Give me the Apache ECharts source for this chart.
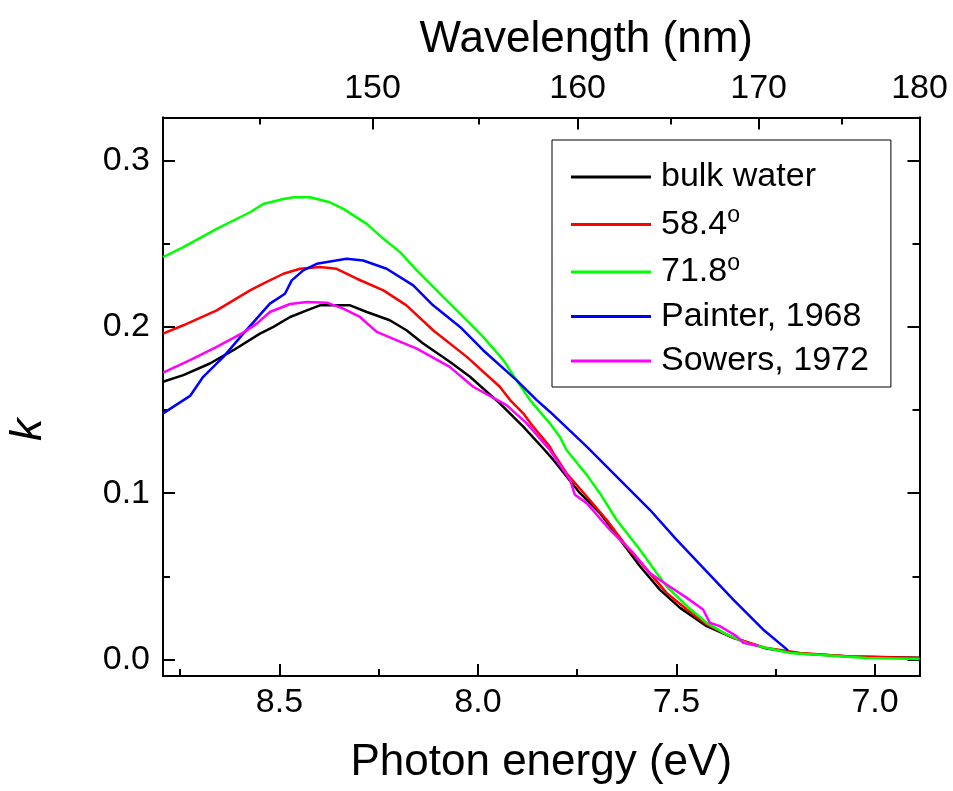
<!DOCTYPE html>
<html>
<head>
<meta charset="utf-8">
<script src="https://cdn.jsdelivr.net/npm/echarts@6/dist/echarts.min.js"></script>
<style>
html,body{margin:0;padding:0;background:#fff;}
#chart{width:953px;height:791px;}
</style>
</head>
<body>
<div id="chart"></div>
<script>
// ---- data (photon energy in eV, extinction coefficient k) ----
const seriesNames = ['bulk water', '58.4°', '71.8°', 'Painter, 1968', 'Sowers, 1972'];
const seriesColors = ['#000000', '#ff0000', '#00ff00', '#0000ff', '#ff00ff'];

const bulkE = [8.793, 8.742, 8.675, 8.616, 8.549, 8.515, 8.473, 8.431, 8.398, 8.322, 8.280, 8.222, 8.180, 8.138, 8.071, 8.020, 7.945, 7.886, 7.836, 7.810, 7.743, 7.693, 7.642, 7.592, 7.542, 7.491, 7.424, 7.357, 7.273, 7.189, 7.063, 6.888];
const bulkK = [0.167, 0.171, 0.178, 0.186, 0.196, 0.200, 0.206, 0.210, 0.213, 0.213, 0.209, 0.204, 0.198, 0.190, 0.179, 0.170, 0.154, 0.140, 0.127, 0.120, 0.100, 0.088, 0.072, 0.056, 0.042, 0.031, 0.020, 0.013, 0.0065, 0.0036, 0.0018, 0.0010];

const a584E = [8.793, 8.742, 8.658, 8.574, 8.541, 8.490, 8.448, 8.398, 8.356, 8.305, 8.238, 8.180, 8.113, 8.028, 7.945, 7.919, 7.886, 7.861, 7.819, 7.810, 7.777, 7.726, 7.676, 7.626, 7.575, 7.525, 7.474, 7.424, 7.357, 7.273, 7.189, 7.063, 6.888];
const a584K = [0.196, 0.201, 0.210, 0.222, 0.226, 0.232, 0.235, 0.236, 0.235, 0.229, 0.222, 0.213, 0.198, 0.182, 0.164, 0.156, 0.148, 0.140, 0.128, 0.124, 0.112, 0.098, 0.084, 0.068, 0.054, 0.040, 0.030, 0.021, 0.013, 0.0068, 0.0038, 0.0017, 0.0008];

const a718E = [8.793, 8.742, 8.658, 8.574, 8.541, 8.490, 8.465, 8.423, 8.373, 8.339, 8.280, 8.238, 8.196, 8.154, 8.087, 8.028, 7.987, 7.936, 7.903, 7.869, 7.819, 7.794, 7.777, 7.726, 7.693, 7.651, 7.592, 7.550, 7.525, 7.474, 7.424, 7.374, 7.323, 7.273, 7.214, 7.105, 7.021, 6.888];
const a718K = [0.242, 0.248, 0.259, 0.269, 0.274, 0.277, 0.278, 0.278, 0.275, 0.271, 0.262, 0.253, 0.245, 0.234, 0.218, 0.204, 0.194, 0.180, 0.168, 0.156, 0.142, 0.134, 0.126, 0.111, 0.100, 0.084, 0.066, 0.052, 0.044, 0.032, 0.022, 0.015, 0.0098, 0.0068, 0.0038, 0.0022, 0.0008, 0.0002];

const painterE = [8.793, 8.725, 8.692, 8.641, 8.591, 8.524, 8.486, 8.469, 8.440, 8.406, 8.331, 8.289, 8.230, 8.163, 8.113, 8.045, 7.987, 7.903, 7.852, 7.819, 7.726, 7.567, 7.500, 7.357, 7.282, 7.219];
const painterK = [0.148, 0.1585, 0.170, 0.182, 0.196, 0.214, 0.220, 0.228, 0.234, 0.238, 0.241, 0.240, 0.235, 0.225, 0.213, 0.200, 0.186, 0.168, 0.156, 0.149, 0.128, 0.090, 0.072, 0.036, 0.018, 0.0054];

const sowersE = [8.793, 8.725, 8.658, 8.591, 8.557, 8.524, 8.473, 8.431, 8.381, 8.339, 8.297, 8.255, 8.154, 8.071, 8.012, 7.928, 7.877, 7.819, 7.768, 7.756, 7.726, 7.668, 7.609, 7.567, 7.525, 7.474, 7.433, 7.416, 7.391, 7.349, 7.332, 7.294];
const sowersK = [0.1725, 0.180, 0.188, 0.1966, 0.202, 0.209, 0.2138, 0.215, 0.2146, 0.211, 0.206, 0.197, 0.187, 0.176, 0.164, 0.153, 0.142, 0.126, 0.108, 0.099, 0.094, 0.078, 0.064, 0.052, 0.045, 0.037, 0.030, 0.022, 0.020, 0.014, 0.010, 0.008];

// ---- axis ticks ----
const energyTicks = [8.5, 8.0, 7.5, 7.0];
const energyMinorTicks = [8.75, 8.25, 7.75, 7.25];
const wavelengthTicks = [150, 160, 170, 180];
const wavelengthMinorTicks = [145, 155, 165, 175];
const kTicks = [0, 0.1, 0.2, 0.3];
const kMinorTicks = [0.05, 0.15, 0.25];

const HC = 1239.84; // eV*nm
const wavelengthMin = 141, wavelengthMax = 180;
const kMin = -0.01, kMax = 0.326;

// ---- build ----
const E_MIN = HC / wavelengthMax;
const E_MAX = HC / wavelengthMin;
const FONT = 'Liberation Sans, Arial, Helvetica, sans-serif';
const black = '#000';

const zip = (xs, ys) => xs.map((x, i) => [x, ys[i]]);
const seriesData = [zip(bulkE, bulkK), zip(a584E, a584K), zip(a718E, a718K), zip(painterE, painterK), zip(sowersE, sowersK)];

function xAx(opts) {
  return Object.assign({
    type: 'value', min: E_MIN, max: E_MAX, inverse: true,
    axisLine: { show: true, onZero: false, lineStyle: { color: black, width: 2 } },
    splitLine: { show: false },
    axisLabel: { show: false },
    axisTick: { show: false }
  }, opts);
}
function yAx(opts) {
  return Object.assign({
    type: 'value', min: kMin, max: kMax,
    axisLine: { show: true, onZero: false, lineStyle: { color: black, width: 2 } },
    splitLine: { show: false },
    axisLabel: { show: false },
    axisTick: { show: false }
  }, opts);
}
const majorTick = (vals) => ({ show: true, inside: true, length: 12, customValues: vals, lineStyle: { color: black, width: 2 } });
const minorTick = (vals) => ({ show: true, inside: true, length: 7, customValues: vals, lineStyle: { color: black, width: 2 } });
const lbl = (vals, fmt, margin) => ({ show: true, customValues: vals, formatter: fmt, fontSize: 34, color: black, fontFamily: FONT, margin: margin });

const option = {
  animation: false,
  backgroundColor: '#fff',
  grid: { left: 163, right: 33.5, top: 117.5, bottom: 115, containLabel: false, outerBoundsMode: 'none' },
  xAxis: [
    xAx({
      position: 'bottom',
      name: 'Photon energy (eV)', nameLocation: 'middle', nameGap: 65,
      nameTextStyle: { fontSize: 44, color: black, fontFamily: FONT },
      axisTick: majorTick(energyTicks),
      axisLabel: lbl(energyTicks, v => Number(v).toFixed(1), 10)
    }),
    xAx({
      position: 'top',
      name: 'Wavelength (nm)', nameLocation: 'middle', nameGap: 56,
      nameTextStyle: { fontSize: 44, color: black, fontFamily: FONT, padding: [0, 0, 0, 90] },
      axisTick: majorTick(wavelengthTicks.map(nm => HC / nm)),
      axisLabel: lbl(wavelengthTicks.map(nm => HC / nm), v => String(Math.round(HC / v)), 12)
    }),
    xAx({ position: 'bottom', axisTick: minorTick(energyMinorTicks) }),
    xAx({ position: 'top', axisTick: minorTick(wavelengthMinorTicks.map(nm => HC / nm)) })
  ],
  yAxis: [
    yAx({
      position: 'left',
      name: 'k', nameLocation: 'middle', nameGap: 112,
      nameTextStyle: { fontSize: 45, fontStyle: 'italic', color: black, fontFamily: FONT, padding: [0, 66, 0, 0] },
      axisTick: majorTick(kTicks),
      axisLabel: lbl(kTicks, v => Number(v).toFixed(1), 13)
    }),
    yAx({ position: 'right', axisTick: majorTick(kTicks) }),
    yAx({ position: 'left', axisTick: minorTick(kMinorTicks) }),
    yAx({ position: 'right', axisTick: minorTick(kMinorTicks) })
  ],
  legend: {
    left: 552, top: 140,
    orient: 'vertical',
    data: seriesNames,
    icon: 'rect',
    itemWidth: 80, itemHeight: 3,
    itemGap: 10.5,
    padding: [20, 22, 9, 19],
    borderColor: black, borderWidth: 1,
    backgroundColor: '#fff',
    formatter: name => name.endsWith('°') ? '{m|' + name.slice(0, -1) + '}{s|o}' : '{m|' + name + '}',
    textStyle: {
      color: black, fontFamily: FONT, fontSize: 34, padding: [0, 0, 0, 5],
      rich: {
        m: { fontSize: 34, lineHeight: 40, color: black, fontFamily: FONT },
        s: { fontSize: 23, lineHeight: 12, verticalAlign: 'top', color: black, fontFamily: FONT }
      }
    }
  },
  series: seriesNames.map((name, i) => ({
    name: name,
    type: 'line',
    xAxisIndex: 0, yAxisIndex: 0,
    data: seriesData[i],
    showSymbol: false, symbol: 'none',
    lineStyle: { color: seriesColors[i], width: 2.5 },
    itemStyle: { color: seriesColors[i] },
    clip: true
  }))
};

const chart = echarts.init(document.getElementById('chart'), null, { renderer: 'canvas' });
chart.setOption(option);
</script>
</body>
</html>
